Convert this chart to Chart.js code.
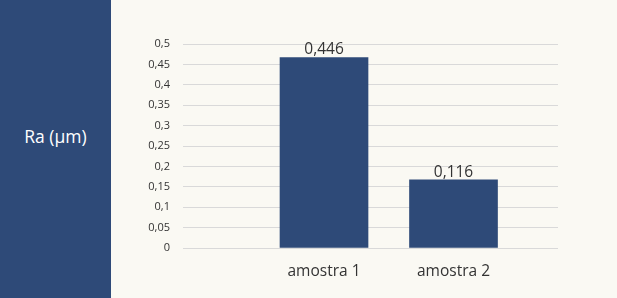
<!DOCTYPE html>
<html>
<head>
<meta charset="utf-8">
<script src="https://cdn.jsdelivr.net/npm/chart.js@4"></script>
<style>
  html, body { margin: 0; padding: 0; background: #faf9f3; }
  #wrap { position: relative; width: 617px; height: 298px; }
  #panel {
    position: absolute; left: 0; top: 0; width: 111px; height: 298px;
    background: #2e4a78; color: #ffffff;
    font-family: "Open Sans", sans-serif; font-size: 17.5px;
    display: flex; align-items: center; justify-content: center;
    padding-bottom: 26px; box-sizing: border-box;
  }
  #chart { position: absolute; left: 0; top: 0; }
</style>
</head>
<body>
<div id="wrap">
  <canvas id="chart" width="617" height="298"></canvas>
  <div id="panel">Ra (µm)</div>
</div>
<script>
// Data
const categories = ['amostra 1', 'amostra 2'];
const positions = [1, 2];
const barValues = [0.467, 0.167];     // bar heights as drawn
const valueLabels = ['0,446', '0,116']; // labels printed above bars
const yTicks = [0, 0.05, 0.1, 0.15, 0.2, 0.25, 0.3, 0.35, 0.4, 0.45, 0.5];

const navy = '#2e4a78';
const textColor = '#333333';
const fontFamily = '"Open Sans", sans-serif';

// labels above each bar
const valueLabelPlugin = {
  id: 'valueLabels',
  afterDatasetsDraw(chart) {
    const ctx = chart.ctx;
    const meta = chart.getDatasetMeta(0);
    ctx.save();
    ctx.font = '15.5px ' + fontFamily;
    ctx.fillStyle = textColor;
    ctx.textAlign = 'center';
    ctx.textBaseline = 'bottom';
    meta.data.forEach((bar, i) => {
      ctx.fillText(valueLabels[i], bar.x, bar.y);
    });
    ctx.restore();
  }
};

const ctx = document.getElementById('chart').getContext('2d');
const chart = new Chart(ctx, {
  type: 'bar',
  data: {
    datasets: [{
      data: positions.map((p, i) => ({ x: p, y: barValues[i] })),
      backgroundColor: navy,
      borderWidth: 0,
      barThickness: 88,
    }],
  },
  options: {
    responsive: false,
    animation: false,
    layout: { padding: { left: 111, right: 59, top: 44, bottom: 0 } },
    plugins: { legend: { display: false }, tooltip: { enabled: false } },
    scales: {
      x: {
        type: 'linear',
        offset: false,
        min: -0.089,
        max: 2.807,
        grid: { display: false },
        border: { display: false },
        afterBuildTicks: (axis) => { axis.ticks = positions.map(v => ({ value: v })); },
        afterFit: (axis) => { axis.height = 50; },
        ticks: {
          padding: 6,
          color: textColor,
          font: { family: fontFamily, size: 15.5 },
          callback: (v) => categories[positions.indexOf(v)] || '',
        },
      },
      y: {
        min: 0,
        max: 0.5,
        afterBuildTicks: (axis) => { axis.ticks = yTicks.map(v => ({ value: v })); },
        afterFit: (axis) => { axis.width = 72; },
        grid: { color: '#d9d9d9', lineWidth: 1, drawTicks: false },
        border: { display: false },
        ticks: {
          padding: 13,
          color: textColor,
          font: { family: fontFamily, size: 11 },
          callback: (v) => String(v).replace('.', ','),
        },
      },
    },
  },
  plugins: [valueLabelPlugin],
});
</script>
</body>
</html>
